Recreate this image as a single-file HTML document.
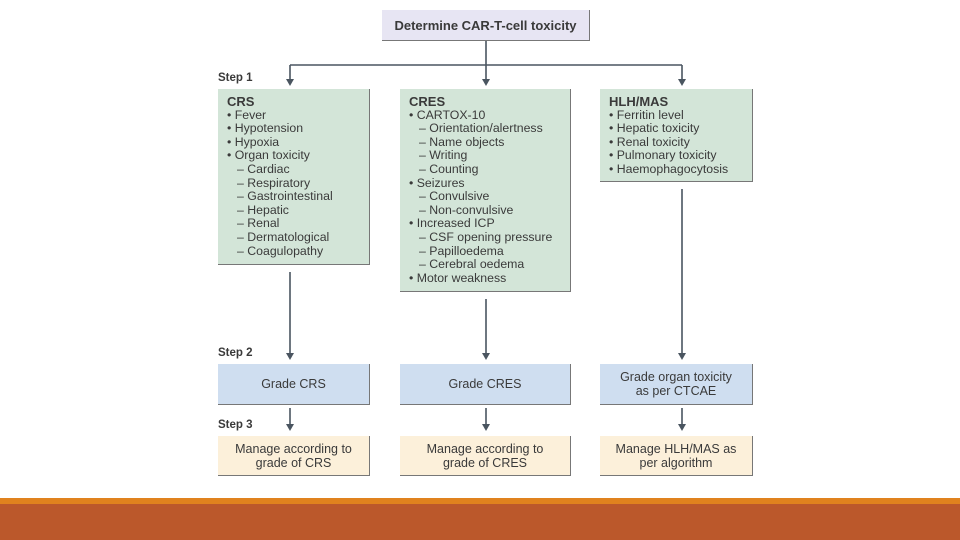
<!DOCTYPE html>
<html><head><style>
body{margin:0;width:960px;height:540px;background:#fff;position:relative;overflow:hidden;font-family:"Liberation Sans",sans-serif;color:#3a3a3a}
.b{position:absolute;box-sizing:border-box;border:1px solid #777;border-width:0 1px 1px 0}
.g{background:#d3e5d8;font-size:12.3px;line-height:13.6px;padding:6px 0 0 9px}
.bl{background:#cfdef0;font-size:12.5px;text-align:center;display:flex;align-items:center;justify-content:center;line-height:14px}
.c{background:#fcf0da;font-size:12.5px;text-align:center;display:flex;align-items:center;justify-content:center;line-height:14px}
.h{font-weight:bold;font-size:13px}
.s{position:absolute;font-weight:bold;font-size:11.5px;left:218px}
.i{padding-left:10px}
</style></head><body>
<div class="b" style="left:382px;top:10px;width:208px;height:31px;background:#e7e5f3;font-weight:bold;font-size:13px;display:flex;align-items:center;justify-content:center">Determine CAR-T-cell toxicity</div>
<svg width="960" height="540" style="position:absolute;left:0;top:0">
<g stroke="#4a5560" stroke-width="1.6" fill="none">
<line x1="486" y1="41" x2="486" y2="80"/>
<line x1="290" y1="65" x2="682" y2="65"/>
<line x1="290" y1="65" x2="290" y2="80"/>
<line x1="682" y1="65" x2="682" y2="80"/>
<line x1="290" y1="272" x2="290" y2="354"/>
<line x1="486" y1="299" x2="486" y2="354"/>
<line x1="682" y1="189" x2="682" y2="354"/>
<line x1="290" y1="408" x2="290" y2="425"/>
<line x1="486" y1="408" x2="486" y2="425"/>
<line x1="682" y1="408" x2="682" y2="425"/>
</g>
<g fill="#4a5560">
<polygon points="286,79 294,79 290,86"/><polygon points="482,79 490,79 486,86"/><polygon points="678,79 686,79 682,86"/>
<polygon points="286,353 294,353 290,360"/><polygon points="482,353 490,353 486,360"/><polygon points="678,353 686,353 682,360"/>
<polygon points="286,424 294,424 290,431"/><polygon points="482,424 490,424 486,431"/><polygon points="678,424 686,424 682,431"/>
</g>
</svg>
<div class="s" style="top:72px">Step 1</div>
<div class="s" style="top:347px">Step 2</div>
<div class="s" style="top:419px">Step 3</div>
<div class="b g" style="left:218px;top:89px;width:152px;height:176px"><div class="h">CRS</div>• Fever<br>• Hypotension<br>• Hypoxia<br>• Organ toxicity<div class="i">– Cardiac<br>– Respiratory<br>– Gastrointestinal<br>– Hepatic<br>– Renal<br>– Dermatological<br>– Coagulopathy</div></div>
<div class="b g" style="left:400px;top:89px;width:171px;height:203px"><div class="h">CRES</div>• CARTOX-10<div class="i">– Orientation/alertness<br>– Name objects<br>– Writing<br>– Counting</div>• Seizures<div class="i">– Convulsive<br>– Non-convulsive</div>• Increased ICP<div class="i">– CSF opening pressure<br>– Papilloedema<br>– Cerebral oedema</div>• Motor weakness</div>
<div class="b g" style="left:600px;top:89px;width:153px;height:93px"><div class="h">HLH/MAS</div>• Ferritin level<br>• Hepatic toxicity<br>• Renal toxicity<br>• Pulmonary toxicity<br>• Haemophagocytosis</div>
<div class="b bl" style="left:218px;top:364px;width:152px;height:41px">Grade CRS</div>
<div class="b bl" style="left:400px;top:364px;width:171px;height:41px">Grade CRES</div>
<div class="b bl" style="left:600px;top:364px;width:153px;height:41px">Grade organ toxicity<br>as per CTCAE</div>
<div class="b c" style="left:218px;top:436px;width:152px;height:40px">Manage according to<br>grade of CRS</div>
<div class="b c" style="left:400px;top:436px;width:171px;height:40px">Manage according to<br>grade of CRES</div>
<div class="b c" style="left:600px;top:436px;width:153px;height:40px">Manage HLH/MAS as<br>per algorithm</div>
<div style="position:absolute;left:0;top:498px;width:960px;height:6px;background:#e0821e"></div>
<div style="position:absolute;left:0;top:504px;width:960px;height:36px;background:#bb582b"></div>
</body></html>
